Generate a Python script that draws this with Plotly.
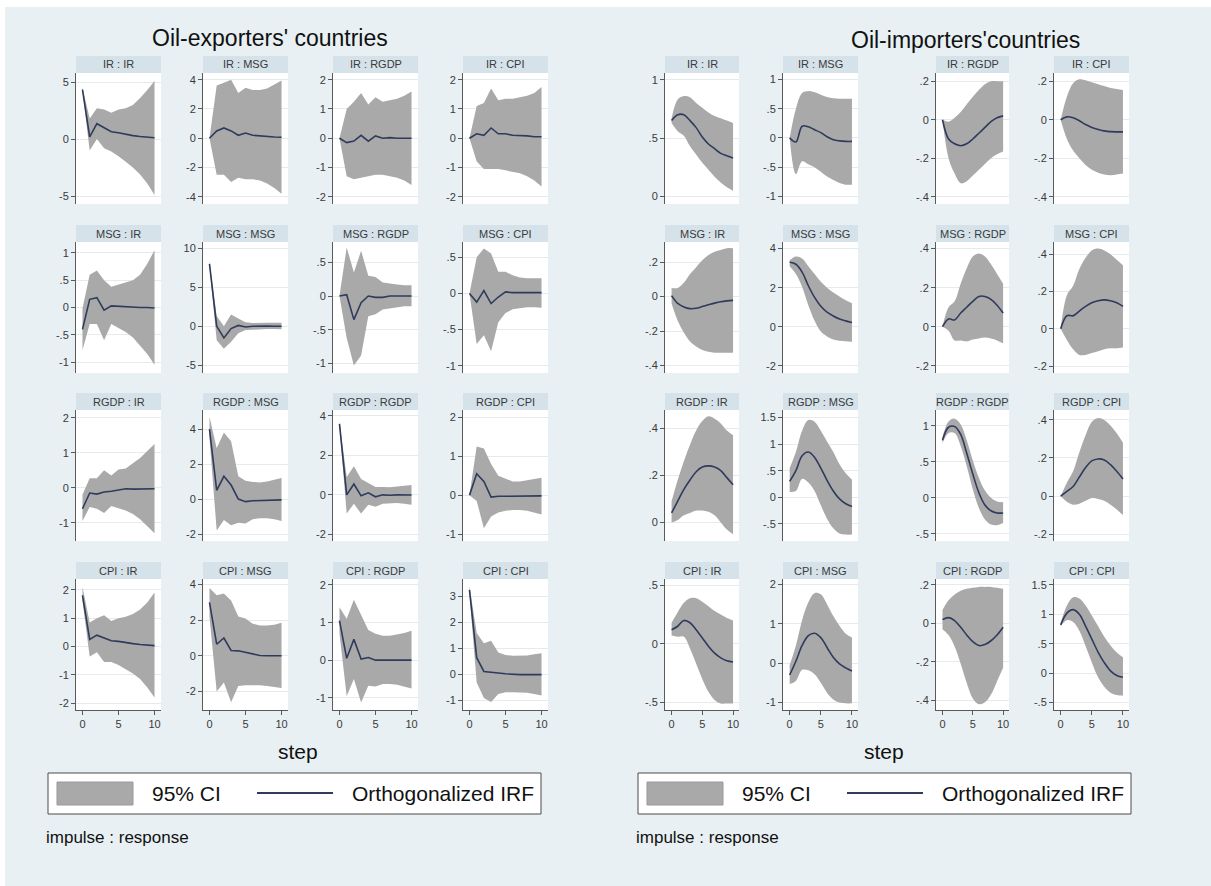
import plotly.graph_objects as go

# ---------------------------------------------------------------------------
# Impulse-response data (orthogonalized IRF with 95% confidence bands)
# steps 0..10, naming: <group>_<impulse>_<response>_<series>
# ---------------------------------------------------------------------------
steps = list(range(11))
variables = ["IR", "MSG", "RGDP", "CPI"]

# ----- Oil-exporting countries -----
exp_ir_ir_irf = [4.35, 0.2, 1.35, 1.0, 0.65, 0.55, 0.4, 0.3, 0.22, 0.17, 0.12]
exp_ir_ir_lo = [4.2, -1.0, 0.0, -0.8, -1.1, -1.5, -2.0, -2.5, -3.1, -3.9, -4.9]
exp_ir_ir_hi = [4.5, 1.8, 2.7, 2.6, 2.3, 2.6, 2.7, 3.0, 3.6, 4.3, 5.1]

exp_ir_msg_irf = [0.0, 0.5, 0.7, 0.5, 0.2, 0.35, 0.2, 0.15, 0.1, 0.08, 0.07]
exp_ir_msg_lo = [0.0, -2.5, -2.5, -3.0, -2.7, -2.8, -2.8, -2.9, -3.1, -3.4, -3.8]
exp_ir_msg_hi = [0.0, 3.6, 3.8, 4.0, 3.1, 3.45, 3.3, 3.3, 3.4, 3.65, 3.95]

exp_ir_rgdp_irf = [0.0, -0.15, -0.1, 0.1, -0.1, 0.08, 0.0, 0.02, 0.0, 0.0, 0.0]
exp_ir_rgdp_lo = [0.0, -1.3, -1.4, -1.35, -1.3, -1.25, -1.25, -1.3, -1.35, -1.45, -1.6]
exp_ir_rgdp_hi = [0.0, 1.0, 1.25, 1.55, 1.15, 1.4, 1.25, 1.3, 1.35, 1.45, 1.6]

exp_ir_cpi_irf = [0.0, 0.15, 0.1, 0.35, 0.15, 0.15, 0.1, 0.1, 0.08, 0.05, 0.05]
exp_ir_cpi_lo = [0.0, -0.8, -1.05, -1.05, -1.05, -1.1, -1.15, -1.2, -1.3, -1.45, -1.65]
exp_ir_cpi_hi = [0.0, 1.1, 1.2, 1.7, 1.3, 1.35, 1.35, 1.4, 1.45, 1.55, 1.75]

exp_msg_ir_irf = [-0.4, 0.15, 0.18, -0.05, 0.03, 0.02, 0.01, 0.0, 0.0, 0.0, -0.01]
exp_msg_ir_lo = [-0.78, -0.3, -0.3, -0.6, -0.3, -0.38, -0.45, -0.55, -0.7, -0.85, -1.05]
exp_msg_ir_hi = [-0.02, 0.6, 0.68, 0.5, 0.38, 0.42, 0.45, 0.5, 0.6, 0.8, 1.05]

exp_msg_msg_irf = [8.0, 0.0, -1.5, -0.3, 0.1, -0.1, 0.0, 0.05, 0.02, 0.0, 0.0]
exp_msg_msg_lo = [7.7, -1.8, -2.9, -2.0, -0.9, -0.5, -0.45, -0.38, -0.35, -0.35, -0.4]
exp_msg_msg_hi = [8.3, 1.3, 0.0, 1.5, 1.0, 0.5, 0.4, 0.45, 0.45, 0.45, 0.45]

exp_msg_rgdp_irf = [0.0, 0.02, -0.35, -0.1, 0.0, -0.02, -0.02, 0.0, 0.0, 0.0, 0.0]
exp_msg_rgdp_lo = [0.0, -0.62, -1.03, -0.88, -0.3, -0.27, -0.2, -0.18, -0.16, -0.15, -0.15]
exp_msg_rgdp_hi = [0.0, 0.72, 0.35, 0.67, 0.3, 0.28, 0.2, 0.18, 0.17, 0.16, 0.16]

exp_msg_cpi_irf = [0.0, -0.12, 0.04, -0.14, -0.05, 0.02, 0.01, 0.01, 0.01, 0.01, 0.01]
exp_msg_cpi_lo = [0.0, -0.7, -0.58, -0.8, -0.4, -0.27, -0.22, -0.2, -0.19, -0.19, -0.2]
exp_msg_cpi_hi = [0.0, 0.5, 0.62, 0.55, 0.3, 0.3, 0.25, 0.22, 0.21, 0.21, 0.21]

exp_rgdp_ir_irf = [-0.6, -0.15, -0.18, -0.12, -0.1, -0.07, -0.03, -0.04, -0.03, -0.03, -0.03]
exp_rgdp_ir_lo = [-0.95, -0.55, -0.6, -0.72, -0.52, -0.58, -0.65, -0.75, -0.9, -1.1, -1.3]
exp_rgdp_ir_hi = [-0.2, 0.27, 0.27, 0.5, 0.35, 0.52, 0.55, 0.7, 0.85, 1.05, 1.25]

exp_rgdp_msg_irf = [4.0, 0.5, 1.3, 0.8, 0.0, -0.15, -0.1, -0.08, -0.07, -0.05, -0.05]
exp_rgdp_msg_lo = [3.5, -1.8, -1.2, -1.5, -1.35, -1.4, -1.15, -1.1, -1.1, -1.15, -1.25]
exp_rgdp_msg_hi = [4.7, 2.9, 3.8, 3.3, 1.3, 1.05, 0.98, 0.95, 1.0, 1.1, 1.2]

exp_rgdp_rgdp_irf = [3.6, 0.0, 0.55, -0.05, 0.1, -0.1, 0.0, -0.02, 0.0, 0.0, -0.01]
exp_rgdp_rgdp_lo = [3.45, -0.95, -0.45, -0.95, -0.5, -0.6, -0.45, -0.42, -0.42, -0.45, -0.5]
exp_rgdp_rgdp_hi = [3.7, 0.9, 1.45, 0.8, 0.6, 0.4, 0.4, 0.38, 0.42, 0.45, 0.5]

exp_rgdp_cpi_irf = [0.0, 0.55, 0.35, -0.05, -0.03, -0.03, -0.03, -0.02, -0.02, -0.02, -0.02]
exp_rgdp_cpi_lo = [0.0, -0.15, -0.85, -0.55, -0.45, -0.4, -0.38, -0.38, -0.4, -0.45, -0.5]
exp_rgdp_cpi_hi = [0.0, 1.25, 1.2, 0.8, 0.5, 0.42, 0.35, 0.35, 0.38, 0.42, 0.45]

exp_cpi_ir_irf = [1.8, 0.25, 0.4, 0.3, 0.2, 0.18, 0.13, 0.1, 0.07, 0.05, 0.03]
exp_cpi_ir_lo = [1.6, -0.35, -0.2, -0.55, -0.55, -0.65, -0.8, -0.95, -1.15, -1.45, -1.8]
exp_cpi_ir_hi = [2.1, 0.85, 1.0, 1.1, 0.9, 1.0, 1.05, 1.15, 1.3, 1.55, 1.9]

exp_cpi_msg_irf = [3.0, 0.65, 1.0, 0.3, 0.28, 0.2, 0.1, 0.02, 0.0, 0.0, 0.0]
exp_cpi_msg_lo = [2.2, -2.0, -1.5, -2.6, -1.7, -1.65, -1.65, -1.65, -1.7, -1.75, -1.8]
exp_cpi_msg_hi = [3.8, 3.4, 3.5, 3.1, 2.2, 2.1, 1.8, 1.7, 1.7, 1.75, 1.85]

exp_cpi_rgdp_irf = [1.05, 0.05, 0.55, 0.03, 0.07, 0.0, 0.0, 0.0, 0.0, 0.0, 0.0]
exp_cpi_rgdp_lo = [0.7, -0.95, -0.5, -1.12, -0.68, -0.7, -0.63, -0.63, -0.65, -0.7, -0.75]
exp_cpi_rgdp_hi = [1.4, 1.1, 1.6, 1.2, 0.8, 0.7, 0.65, 0.65, 0.68, 0.72, 0.78]

exp_cpi_cpi_irf = [3.25, 0.65, 0.12, 0.1, 0.06, 0.03, 0.01, 0.0, 0.0, 0.0, 0.0]
exp_cpi_cpi_lo = [3.1, -0.3, -0.9, -1.05, -0.75, -0.68, -0.68, -0.68, -0.7, -0.75, -0.8]
exp_cpi_cpi_hi = [3.4, 1.6, 1.2, 1.3, 0.85, 0.75, 0.72, 0.72, 0.73, 0.78, 0.82]

# ----- Oil-importing countries -----
imp_ir_ir_irf = [0.65, 0.7, 0.7, 0.65, 0.59, 0.51, 0.45, 0.41, 0.37, 0.35, 0.33]
imp_ir_ir_lo = [0.63, 0.56, 0.52, 0.43, 0.36, 0.29, 0.23, 0.17, 0.12, 0.08, 0.05]
imp_ir_ir_hi = [0.67, 0.83, 0.86, 0.85, 0.8, 0.76, 0.72, 0.69, 0.67, 0.65, 0.63]

imp_ir_msg_irf = [0.0, -0.07, 0.2, 0.19, 0.14, 0.09, 0.02, -0.03, -0.05, -0.06, -0.06]
imp_ir_msg_lo = [0.0, -0.62, -0.4, -0.45, -0.5, -0.58, -0.66, -0.72, -0.77, -0.8, -0.8]
imp_ir_msg_hi = [0.0, 0.5, 0.77, 0.8, 0.78, 0.74, 0.7, 0.68, 0.67, 0.67, 0.67]

imp_ir_rgdp_irf = [0.0, -0.1, -0.125, -0.135, -0.125, -0.1, -0.07, -0.04, -0.01, 0.01, 0.02]
imp_ir_rgdp_lo = [0.0, -0.2, -0.28, -0.33, -0.32, -0.29, -0.26, -0.23, -0.2, -0.18, -0.165]
imp_ir_rgdp_hi = [0.0, -0.01, 0.01, 0.04, 0.08, 0.12, 0.155, 0.185, 0.2, 0.2, 0.2]

imp_ir_cpi_irf = [0.0, 0.015, 0.01, -0.005, -0.025, -0.04, -0.05, -0.058, -0.062, -0.063, -0.063]
imp_ir_cpi_lo = [0.0, -0.1, -0.16, -0.2, -0.235, -0.26, -0.275, -0.285, -0.288, -0.285, -0.28]
imp_ir_cpi_hi = [0.0, 0.12, 0.19, 0.21, 0.205, 0.195, 0.185, 0.175, 0.165, 0.16, 0.155]

imp_msg_ir_irf = [0.005, -0.04, -0.06, -0.07, -0.068, -0.058, -0.048, -0.038, -0.03, -0.025, -0.022]
imp_msg_ir_lo = [-0.04, -0.14, -0.21, -0.26, -0.29, -0.31, -0.32, -0.325, -0.325, -0.325, -0.325]
imp_msg_ir_hi = [0.05, 0.05, 0.08, 0.13, 0.17, 0.21, 0.24, 0.26, 0.27, 0.28, 0.28]

imp_msg_msg_irf = [3.3, 3.2, 2.8, 2.1, 1.5, 1.05, 0.75, 0.55, 0.4, 0.3, 0.22]
imp_msg_msg_lo = [3.1, 2.7, 2.05, 1.1, 0.3, -0.25, -0.5, -0.65, -0.72, -0.75, -0.77]
imp_msg_msg_hi = [3.4, 3.6, 3.5, 3.1, 2.7, 2.3, 2.0, 1.75, 1.55, 1.35, 1.2]

imp_msg_rgdp_irf = [0.0, 0.04, 0.035, 0.07, 0.1, 0.13, 0.155, 0.155, 0.14, 0.11, 0.07]
imp_msg_rgdp_lo = [0.0, -0.02, -0.07, -0.07, -0.075, -0.065, -0.06, -0.055, -0.06, -0.07, -0.085]
imp_msg_rgdp_hi = [0.0, 0.1, 0.13, 0.22, 0.3, 0.36, 0.375, 0.36, 0.32, 0.27, 0.22]

imp_msg_cpi_irf = [0.0, 0.07, 0.07, 0.095, 0.12, 0.14, 0.15, 0.155, 0.15, 0.14, 0.12]
imp_msg_cpi_lo = [0.0, -0.06, -0.11, -0.14, -0.14, -0.13, -0.12, -0.11, -0.105, -0.105, -0.1]
imp_msg_cpi_hi = [0.0, 0.18, 0.23, 0.32, 0.38, 0.42, 0.43, 0.42, 0.4, 0.37, 0.34]

imp_rgdp_ir_irf = [0.04, 0.09, 0.14, 0.18, 0.215, 0.235, 0.24, 0.235, 0.22, 0.19, 0.16]
imp_rgdp_ir_lo = [0.0, 0.01, 0.03, 0.04, 0.05, 0.05, 0.045, 0.03, 0.0, -0.03, -0.05]
imp_rgdp_ir_hi = [0.09, 0.18, 0.26, 0.33, 0.39, 0.43, 0.45, 0.44, 0.42, 0.39, 0.37]

imp_rgdp_msg_irf = [0.3, 0.5, 0.78, 0.85, 0.75, 0.55, 0.32, 0.12, -0.03, -0.12, -0.17]
imp_rgdp_msg_lo = [0.1, 0.12, 0.35, 0.28, 0.12, -0.15, -0.4, -0.58, -0.68, -0.7, -0.7]
imp_rgdp_msg_hi = [0.55, 0.85, 1.25, 1.45, 1.42, 1.25, 1.05, 0.85, 0.62, 0.45, 0.33]

imp_rgdp_rgdp_irf = [0.8, 0.98, 0.99, 0.88, 0.62, 0.33, 0.07, -0.1, -0.18, -0.21, -0.21]
imp_rgdp_rgdp_lo = [0.76, 0.9, 0.9, 0.72, 0.44, 0.12, -0.14, -0.3, -0.37, -0.38, -0.35]
imp_rgdp_rgdp_hi = [0.84, 1.06, 1.1, 1.02, 0.8, 0.52, 0.28, 0.1, 0.0, -0.05, -0.06]

imp_rgdp_cpi_irf = [0.0, 0.025, 0.05, 0.1, 0.15, 0.185, 0.195, 0.19, 0.165, 0.13, 0.09]
imp_rgdp_cpi_lo = [0.0, -0.03, -0.045, -0.04, -0.025, -0.01, -0.015, -0.025, -0.045, -0.07, -0.1]
imp_rgdp_cpi_hi = [0.0, 0.07, 0.13, 0.23, 0.32, 0.39, 0.41, 0.4, 0.37, 0.33, 0.28]

imp_cpi_ir_irf = [0.12, 0.15, 0.2, 0.18, 0.12, 0.05, -0.02, -0.08, -0.12, -0.145, -0.155]
imp_cpi_ir_lo = [0.07, 0.06, 0.06, -0.04, -0.17, -0.3, -0.41, -0.48, -0.51, -0.51, -0.51]
imp_cpi_ir_hi = [0.18, 0.27, 0.35, 0.39, 0.39, 0.36, 0.32, 0.28, 0.25, 0.22, 0.2]

imp_cpi_msg_irf = [-0.3, 0.05, 0.45, 0.7, 0.76, 0.65, 0.4, 0.15, -0.02, -0.12, -0.2]
imp_cpi_msg_lo = [-0.53, -0.45, -0.17, -0.18, -0.28, -0.5, -0.75, -0.92, -1.0, -1.02, -1.02]
imp_cpi_msg_hi = [-0.05, 0.45, 1.1, 1.55, 1.78, 1.75, 1.5, 1.2, 0.95, 0.75, 0.65]

imp_cpi_rgdp_irf = [0.02, 0.03, 0.015, -0.02, -0.06, -0.095, -0.115, -0.11, -0.09, -0.06, -0.02]
imp_cpi_rgdp_lo = [-0.03, -0.06, -0.12, -0.21, -0.31, -0.39, -0.42, -0.41, -0.37, -0.3, -0.23]
imp_cpi_rgdp_hi = [0.07, 0.12, 0.15, 0.17, 0.18, 0.185, 0.19, 0.19, 0.19, 0.185, 0.18]

imp_cpi_cpi_irf = [0.82, 1.02, 1.08, 1.0, 0.8, 0.58, 0.36, 0.18, 0.04, -0.04, -0.07]
imp_cpi_cpi_lo = [0.8, 0.9, 0.87, 0.72, 0.46, 0.18, -0.07, -0.23, -0.33, -0.37, -0.38]
imp_cpi_cpi_hi = [0.85, 1.15, 1.29, 1.27, 1.15, 0.98, 0.8, 0.62, 0.47, 0.35, 0.27]

# ---------------------------------------------------------------------------
# Axis settings per panel (row-major: impulse rows x response columns)
# ---------------------------------------------------------------------------
exp_yranges = [
    [-5.7, 5.8], [-4.5, 4.46], [-2.25, 2.23], [-2.25, 2.23],
    [-1.2, 1.2], [-6.0, 10.8], [-1.14, 0.8], [-1.1, 0.71],
    [-1.52, 2.22], [-2.4, 5.09], [-2.34, 4.3], [-1.18, 2.19],
    [-2.24, 2.38], [-3.04, 4.31], [-1.32, 2.15], [-1.36, 3.67],
]
exp_yticks = [
    [-5, 0, 5], [-4, -2, 0, 2, 4], [-2, -1, 0, 1, 2], [-2, -1, 0, 1, 2],
    [-1, -0.5, 0, 0.5, 1], [-5, 0, 5, 10], [-1, -0.5, 0, 0.5], [-1, -0.5, 0, 0.5],
    [-1, 0, 1, 2], [-2, 0, 2, 4], [-2, 0, 2, 4], [-1, 0, 1, 2],
    [-2, -1, 0, 1, 2], [-2, 0, 2, 4], [-1, 0, 1, 2], [-1, 0, 1, 2, 3],
]
imp_yranges = [
    [-0.063, 1.057], [-1.13, 1.11], [-0.438, 0.243], [-0.438, 0.243],
    [-0.443, 0.316], [-2.37, 4.34], [-0.237, 0.434], [-0.237, 0.465],
    [-0.079, 0.477], [-0.82, 1.64], [-0.6, 1.22], [-0.236, 0.452],
    [-0.566, 0.554], [-1.19, 2.14], [-0.45, 0.231], [-0.625, 1.6],
]
imp_yticks = [
    [0, 0.5, 1], [-1, -0.5, 0, 0.5, 1], [-0.4, -0.2, 0, 0.2], [-0.4, -0.2, 0, 0.2],
    [-0.4, -0.2, 0, 0.2], [-2, 0, 2, 4], [-0.2, 0, 0.2, 0.4], [-0.2, 0, 0.2, 0.4],
    [0, 0.2, 0.4], [-0.5, 0, 0.5, 1, 1.5], [-0.5, 0, 0.5, 1], [-0.2, 0, 0.2, 0.4],
    [-0.5, 0, 0.5], [-1, 0, 1, 2], [-0.4, -0.2, 0, 0.2], [-0.5, 0, 0.5, 1, 1.5],
]

# ---------------------------------------------------------------------------
# Page geometry (pixels) and styling
# ---------------------------------------------------------------------------
W, H = 1211, 886
FONT = "Arial, 'Liberation Sans', sans-serif"
BG = "#e8f0f3"
STRIP = "#d5e2e9"
CI_FILL = "#a9a9a9"
IRF_COLOR = "#2f3b5c"
AXIS = "#5a5a5a"
GRID = "#e3ebee"
TICK_FONT = dict(family=FONT, size=11, color="#3a3a3a")

exp_cols = [(76, 161), (203, 288), (333, 418), (463, 548)]
imp_cols = [(665, 739), (783, 858), (936, 1009), (1054, 1129)]
rows = [(73, 204), (242, 373), (410, 541), (579, 710)]
STRIP_H = 17
exp_xrange = [-0.9, 10.9]
imp_xrange = [-1.07, 10.97]


def px_x(x):
    return x / W


def px_y(y):
    return 1 - y / H


def tick_label(v):
    if abs(v - round(v)) < 1e-9:
        return str(int(round(v)))
    s = f"{v:g}"
    if s.startswith("0."):
        s = s[1:]
    elif s.startswith("-0."):
        s = "-" + s[2:]
    return s


fig = go.Figure()
layout = {}
shapes = []
annotations = []
panel_no = 0

groups = [
    ("exp", exp_cols, exp_xrange, exp_yranges, exp_yticks, "linear"),
    ("imp", imp_cols, imp_xrange, imp_yranges, imp_yticks, "spline"),
]

for prefix, cols, xrange_, yranges, yticks, shape in groups:
    for r, impulse in enumerate(variables):
        for c, response in enumerate(variables):
            panel_no += 1
            sfx = "" if panel_no == 1 else str(panel_no)
            key = f"{prefix}_{impulse.lower()}_{response.lower()}"
            irf = globals()[key + "_irf"]
            lo = globals()[key + "_lo"]
            hi = globals()[key + "_hi"]
            idx = r * 4 + c
            (x0, x1), (y0, y1) = cols[c], rows[r]
            bottom = r == 3

            common = dict(xaxis="x" + sfx, yaxis="y" + sfx, showlegend=False,
                          hoverinfo="skip", mode="lines")
            fig.add_trace(go.Scatter(x=steps, y=lo, line=dict(width=0, shape=shape),
                                     **common))
            fig.add_trace(go.Scatter(x=steps, y=hi, line=dict(width=0, shape=shape),
                                     fill="tonexty", fillcolor=CI_FILL, **common))
            fig.add_trace(go.Scatter(x=steps, y=irf,
                                     line=dict(color=IRF_COLOR, width=1.6, shape=shape),
                                     **common))

            layout["xaxis" + sfx] = dict(
                domain=[px_x(x0), px_x(x1)], anchor="y" + sfx, range=xrange_,
                showgrid=False, zeroline=False, showline=bottom, linecolor=AXIS,
                linewidth=1, ticks="outside" if bottom else "",
                tickvals=[0, 5, 10] if bottom else [], showticklabels=bottom,
                ticklen=4, tickcolor=AXIS, tickfont=TICK_FONT,
            )
            layout["yaxis" + sfx] = dict(
                domain=[px_y(y1), px_y(y0)], anchor="x" + sfx, range=yranges[idx],
                tickvals=yticks[idx], ticktext=[tick_label(v) for v in yticks[idx]],
                ticks="outside", ticklen=4, tickcolor=AXIS, showline=True,
                linecolor=AXIS, linewidth=1, showgrid=True, gridcolor=GRID,
                gridwidth=1, zeroline=False, tickfont=TICK_FONT,
            )

            # panel header strip with "impulse : response" label
            shapes.append(dict(type="rect", xref="paper", yref="paper",
                               x0=px_x(x0), x1=px_x(x1), y0=px_y(y0),
                               y1=px_y(y0 - STRIP_H), fillcolor=STRIP,
                               line=dict(width=0)))
            annotations.append(dict(text=f"{impulse} : {response}", xref="paper",
                                    yref="paper", x=px_x((x0 + x1) / 2),
                                    y=px_y(y0 - STRIP_H / 2), showarrow=False,
                                    xanchor="center", yanchor="middle",
                                    font=dict(family=FONT, size=11, color="#3a3a3a")))

# white page margin at the top and left edges
shapes.append(dict(type="rect", xref="paper", yref="paper", x0=0, x1=1,
                   y0=px_y(7), y1=1, fillcolor="white", line=dict(width=0)))
shapes.append(dict(type="rect", xref="paper", yref="paper", x0=0, x1=px_x(5),
                   y0=0, y1=1, fillcolor="white", line=dict(width=0)))


def text(s, x, y, size, anchor="center"):
    annotations.append(dict(text=s, xref="paper", yref="paper", x=px_x(x),
                            y=px_y(y), showarrow=False, xanchor=anchor,
                            yanchor="middle",
                            font=dict(family=FONT, size=size, color="#111111")))


# group titles and axis titles
text("Oil-exporters' countries", 270, 38, 23)
text("Oil-importers'countries", 965, 40, 23)
text("step", 298, 751, 21)
text("step", 884, 751, 21)

# legend boxes for each block
for off in (0, 590):
    shapes.append(dict(type="rect", xref="paper", yref="paper",
                       x0=px_x(48 + off), x1=px_x(541 + off),
                       y0=px_y(814), y1=px_y(773), fillcolor="white",
                       line=dict(color="#4a4a4a", width=1)))
    shapes.append(dict(type="rect", xref="paper", yref="paper",
                       x0=px_x(57 + off), x1=px_x(133 + off),
                       y0=px_y(805), y1=px_y(782), fillcolor=CI_FILL,
                       line=dict(color="#999999", width=1)))
    shapes.append(dict(type="line", xref="paper", yref="paper",
                       x0=px_x(257 + off), x1=px_x(333 + off),
                       y0=px_y(793), y1=px_y(793),
                       line=dict(color=IRF_COLOR, width=2)))
    text("95% CI", 150 + off, 793, 21, "left")
    text("Orthogonalized IRF", 350 + off, 793, 21, "left")
    text("impulse : response", 44 + off, 837, 17, "left")

fig.update_layout(
    width=W, height=H, autosize=False,
    margin=dict(l=0, r=0, t=0, b=0),
    paper_bgcolor=BG, plot_bgcolor="white",
    shapes=shapes, annotations=annotations,
    showlegend=False,
    **layout,
)

fig.write_html("out.html")
